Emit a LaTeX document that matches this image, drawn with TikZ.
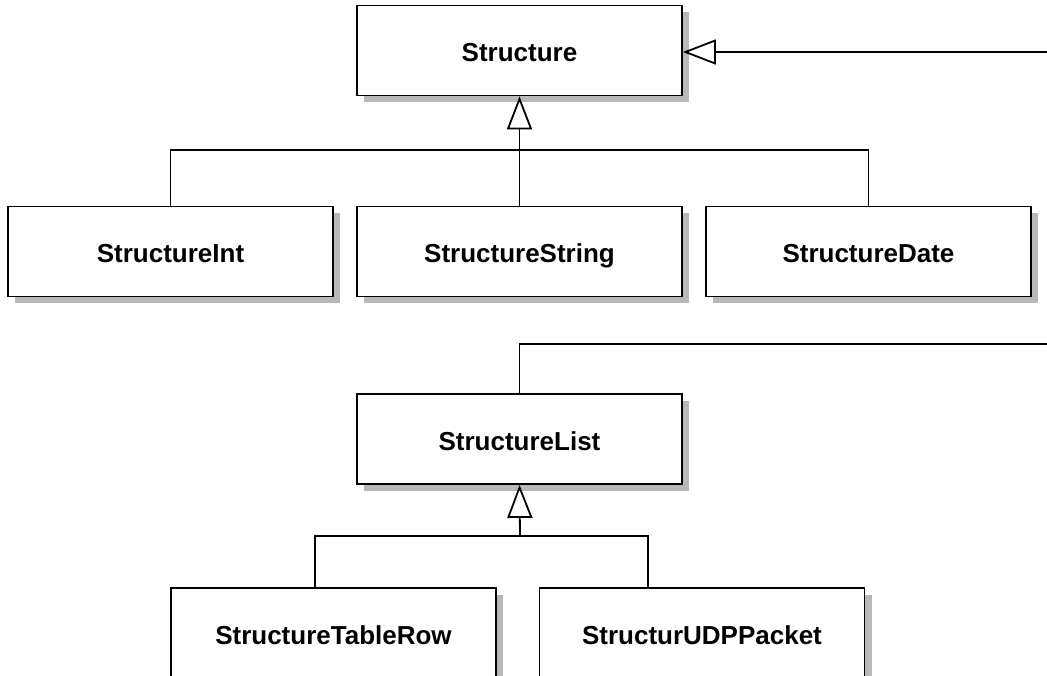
\documentclass[tikz,border=0pt]{standalone}
\usepackage{fontspec}
\setmainfont{Liberation Sans}
\usetikzlibrary{arrows.meta,shadows}
\tikzset{
  cls/.style={draw=black, line width=1.8pt, fill=white,
    minimum width=325pt, minimum height=90pt, inner sep=0pt,
    text height=22pt, text depth=0pt,
    font=\fontsize{26}{30}\selectfont\bfseries,
    drop shadow={shadow xshift=7pt, shadow yshift=-7pt, fill=black!28, opacity=1}},
  link/.style={draw=black, line width=1.8pt},
  inh/.style={link, -{Triangle[open, length=33pt, width=25pt, line width=1.8pt]}}
}
\begin{document}
\begin{tikzpicture}[x=1pt, y=-1pt]
  \useasboundingbox (0,0) rectangle (1047,676);
  \clip (0,0) rectangle (1047,676);

  % classes
  \node[cls] (s)   at (519.5, 50.5)  {Structure};
  \node[cls] (si)  at (170.5, 251.5) {StructureInt};
  \node[cls] (ss)  at (519.5, 251.5) {StructureString};
  \node[cls] (sd)  at (868.5, 251.5) {StructureDate};
  \node[cls] (sl)  at (519.5, 439)   {StructureList};
  \node[cls] (str) at (333.5, 633)   {StructureTableRow};
  \node[cls] (udp) at (702, 633)     {StructurUDPPacket};

  % junctions and off-page ends
  \coordinate (j1) at (520, 150);
  \coordinate (j2) at (520, 536);
  \coordinate (r1) at (1047, 52);
  \coordinate (r2) at (1047, 344);

  % Structure hierarchy
  \draw[link] (si.north) |- (j1) -| (sd.north);
  \draw[inh] (ss.north) -- (s.south);
  \draw[inh] (r1) -- (s.east |- r1);

  % StructureList hierarchy
  \draw[link] (r2) -| (sl.north);
  \draw[link] ([xshift=-18.5pt]str.north) |- (j2) -| ([xshift=-54pt]udp.north);
  \draw[inh] (j2) -- (sl.south);
\end{tikzpicture}
\end{document}
